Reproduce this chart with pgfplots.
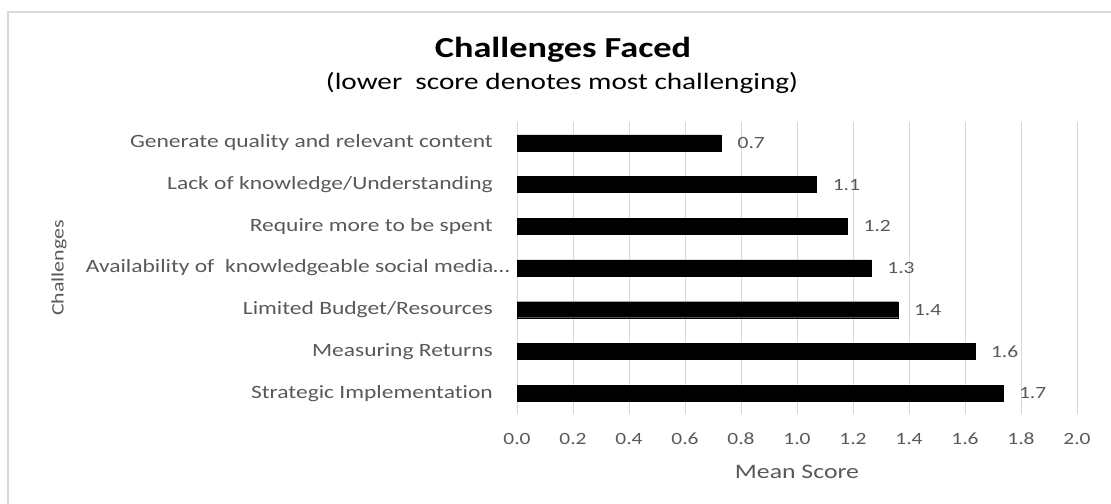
\documentclass[border=0pt]{standalone}
\usepackage{pgfplots}
\pgfplotsset{compat=1.18}
\usepackage{fontspec}
\setmainfont{Carlito}[FakeStretch=1.25, Ligatures=CommonOff]
\definecolor{txt}{HTML}{595959}
\definecolor{gridc}{HTML}{D9D9D9}
\newcommand{\lab}{\fontsize{18.8bp}{22bp}\selectfont}
\newcommand{\tck}{\fontsize{17.2bp}{20bp}\selectfont}
\begin{document}
\begin{tikzpicture}[x=1bp,y=1bp]
\path[use as bounding box] (0,0) rectangle (1111,504);
\draw[gridc, line width=1.5bp] (8,-10) -- (8,492) -- (1125,492);
\begin{axis}[
  at={(517bp,90bp)}, anchor=south west, scale only axis,
  width=560bp, height=292bp,
  xbar, bar width=16bp,
  xmin=0, xmax=2, ymin=-0.5, ymax=6.5, y dir=reverse,
  ytick={0,1,2,3,4,5,6},
  yticklabels={{Generate quality and relevant content},{Lack of knowledge/Understanding},{Require more to be spent},{Availability of\ \ knowledgeable social media\ldots\hspace*{-17bp}},{Limited Budget/Resources},{Measuring Returns},{Strategic Implementation}},
  xtick={0,0.2,0.4,0.6,0.8,1.0,1.2,1.4,1.6,1.8,2.0},
  /pgf/number format/assume math mode=true,
  xticklabel style={font=\tck, text=txt, anchor=base, yshift=-31bp, inner sep=0pt, /pgf/number format/fixed, /pgf/number format/fixed zerofill, /pgf/number format/precision=1},
  yticklabel style={font=\lab, text=txt, anchor=east, inner sep=0pt, xshift=-24bp},
  major tick length=0pt,
  axis line style={draw=none},
  xmajorgrids, grid style={gridc, line width=1bp},
  point meta=x,
  nodes near coords,
  nodes near coords style={font=\tck, text=txt, anchor=west, inner sep=0pt, xshift=16bp, /pgf/number format/fixed, /pgf/number format/fixed zerofill, /pgf/number format/precision=1},
  clip=false,
]
\addplot[fill=black, draw=black] coordinates {(0.73,0) (1.07,1) (1.18,2) (1.265,3) (1.36,4) (1.635,5) (1.735,6)};
\end{axis}
\node[font=\fontsize{29bp}{34bp}\selectfont\bfseries, anchor=base] at (563,446) {Challenges Faced};
\node[font=\fontsize{23.4bp}{28bp}\selectfont, anchor=base] at (562,414) {(lower\ \ score denotes most challenging)};
\node[font=\fontsize{20.6bp}{24bp}\selectfont, text=txt, anchor=base] at (797,25) {Mean Score};
\node[font=\fontsize{17.5bp}{21bp}\selectfont, text=txt, rotate=90] at (59,236) {Challenges};
\end{tikzpicture}
\end{document}
